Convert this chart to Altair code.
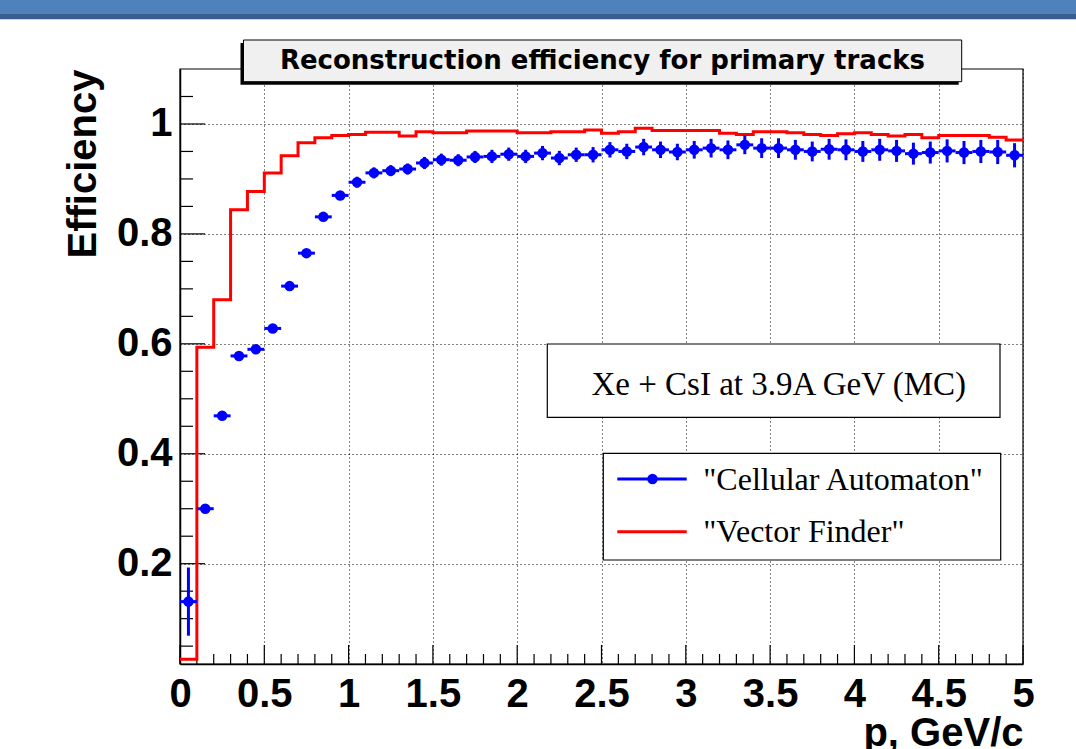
import altair as alt
import pandas as pd

# ---------------- data ----------------
p_centers = [0.05, 0.15, 0.25, 0.35, 0.45, 0.55, 0.65, 0.75, 0.85, 0.95,
             1.05, 1.15, 1.25, 1.35, 1.45, 1.55, 1.65, 1.75, 1.85, 1.95,
             2.05, 2.15, 2.25, 2.35, 2.45, 2.55, 2.65, 2.75, 2.85, 2.95,
             3.05, 3.15, 3.25, 3.35, 3.45, 3.55, 3.65, 3.75, 3.85, 3.95,
             4.05, 4.15, 4.25, 4.35, 4.45, 4.55, 4.65, 4.75, 4.85, 4.95]

ca_eff = [0.131, 0.300, 0.469, 0.578, 0.590, 0.628, 0.705, 0.765, 0.831, 0.870,
          0.894, 0.911, 0.915, 0.918, 0.929, 0.935, 0.934, 0.940, 0.941, 0.945,
          0.941, 0.947, 0.938, 0.944, 0.944, 0.953, 0.950, 0.958, 0.953, 0.949,
          0.953, 0.956, 0.953, 0.962, 0.956, 0.956, 0.953, 0.950, 0.954, 0.953,
          0.950, 0.953, 0.951, 0.946, 0.948, 0.951, 0.948, 0.950, 0.949, 0.943]

ca_err = [0.062, 0.008, 0.007, 0.006, 0.006, 0.006, 0.006, 0.006, 0.006, 0.007,
          0.010, 0.010, 0.010, 0.010, 0.011, 0.011, 0.011, 0.011, 0.012, 0.012,
          0.012, 0.013, 0.013, 0.013, 0.014, 0.014, 0.014, 0.015, 0.015, 0.015,
          0.016, 0.017, 0.017, 0.017, 0.018, 0.018, 0.018, 0.018, 0.019, 0.019,
          0.019, 0.020, 0.020, 0.020, 0.020, 0.021, 0.021, 0.021, 0.022, 0.022]

bin_edges = [0.0, 0.1, 0.2, 0.3, 0.4, 0.5, 0.6, 0.7, 0.8, 0.9,
             1.0, 1.1, 1.2, 1.3, 1.4, 1.5, 1.6, 1.7, 1.8, 1.9,
             2.0, 2.1, 2.2, 2.3, 2.4, 2.5, 2.6, 2.7, 2.8, 2.9,
             3.0, 3.1, 3.2, 3.3, 3.4, 3.5, 3.6, 3.7, 3.8, 3.9,
             4.0, 4.1, 4.2, 4.3, 4.4, 4.5, 4.6, 4.7, 4.8, 4.9, 5.0]

vf_eff = [0.026, 0.594, 0.680, 0.844, 0.877, 0.911, 0.942, 0.966, 0.975, 0.979,
          0.981, 0.985, 0.985, 0.978, 0.986, 0.984, 0.984, 0.987, 0.987, 0.987,
          0.984, 0.984, 0.986, 0.986, 0.989, 0.983, 0.986, 0.992, 0.988, 0.988,
          0.988, 0.988, 0.983, 0.981, 0.986, 0.986, 0.984, 0.981, 0.979, 0.982,
          0.984, 0.981, 0.978, 0.981, 0.975, 0.979, 0.979, 0.979, 0.976, 0.971]

x_major = [0, 0.5, 1, 1.5, 2, 2.5, 3, 3.5, 4, 4.5, 5]
x_minor = [0.1, 0.2, 0.3, 0.4, 0.6, 0.7, 0.8, 0.9, 1.1, 1.2, 1.3, 1.4,
           1.6, 1.7, 1.8, 1.9, 2.1, 2.2, 2.3, 2.4, 2.6, 2.7, 2.8, 2.9,
           3.1, 3.2, 3.3, 3.4, 3.6, 3.7, 3.8, 3.9, 4.1, 4.2, 4.3, 4.4,
           4.6, 4.7, 4.8, 4.9]
y_major = [0.2, 0.4, 0.6, 0.8, 1.0]
y_minor = [0.05, 0.1, 0.15, 0.25, 0.3, 0.35, 0.45, 0.5, 0.55, 0.65, 0.7,
           0.75, 0.85, 0.9, 0.95, 1.05]

title_text = ["Reconstruction efficiency for primary tracks"]
info_text = ["Xe + CsI at 3.9A GeV (MC)"]
legend_labels = ['"Cellular Automaton"', '"Vector Finder"']
x_title = "p, GeV/c"
y_title = "Efficiency"

# ---------------- geometry ----------------
W, H = 843, 595
SANS = "Liberation Sans"
SERIF = "Liberation Serif"
BLUE = "#0000ff"
RED = "#ff0000"

xscale = alt.Scale(domain=[0, 5], nice=False, zero=False)
yscale = alt.Scale(domain=[0.0175, 1.1], nice=False, zero=False)

x_axis = alt.Axis(values=x_major, format="~g", title=x_title, ticks=False,
                  grid=True, gridDash=[1, 3], gridColor="#000000", gridWidth=1,
                  domainColor="#000000", domainWidth=1.5,
                  labelFont=SANS, labelFontWeight="bold", labelFontSize=40,
                  labelColor="#000000", labelPadding=10, labelFlush=False,
                  labelOverlap=False, labelBaseline="top",
                  titleFont=SANS, titleFontWeight="bold", titleFontSize=40,
                  titleColor="#000000", titleX=W, titleY=81, titleAlign="right",
                  titleBaseline="alphabetic")
y_axis = alt.Axis(values=y_major, format="~g", title=y_title, ticks=False,
                  grid=True, gridDash=[1, 3], gridColor="#000000", gridWidth=1,
                  domainColor="#000000", domainWidth=1.5,
                  labelFont=SANS, labelFontWeight="bold", labelFontSize=40,
                  labelColor="#000000", labelPadding=8, labelFlush=False,
                  labelOverlap=False,
                  titleFont=SANS, titleFontWeight="bold", titleFontSize=40,
                  titleColor="#000000", titleX=-85, titleY=0, titleAngle=270,
                  titleAlign="right", titleBaseline="alphabetic")


def X(field):
    return alt.X(f"{field}:Q", scale=xscale, axis=x_axis)


def Y(field):
    return alt.Y(f"{field}:Q", scale=yscale, axis=y_axis)


ca_df = pd.DataFrame({"p": p_centers, "eff": ca_eff, "err": ca_err})
vf_df = pd.DataFrame({"edge": bin_edges, "eff": vf_eff + [vf_eff[-1]]})

# frame
frame = alt.Chart(pd.DataFrame({"a": [0]})).mark_rect(
    fill=None, stroke="#000000", strokeWidth=1.2
).encode(x=alt.value(0), x2=alt.value(W), y=alt.value(0), y2=alt.value(H))

# ticks (inside)
xmaj = alt.Chart(pd.DataFrame({"t": x_major})).mark_rule(color="#000000", strokeWidth=1.2).encode(
    x=X("t"), y=alt.value(H), y2=alt.value(H - 19))
xmin = alt.Chart(pd.DataFrame({"t": x_minor})).mark_rule(color="#000000", strokeWidth=1.2).encode(
    x=X("t"), y=alt.value(H), y2=alt.value(H - 10))
ymaj = alt.Chart(pd.DataFrame({"t": y_major})).mark_rule(color="#000000", strokeWidth=1.2).encode(
    y=Y("t"), x=alt.value(0), x2=alt.value(25))
ymin = alt.Chart(pd.DataFrame({"t": y_minor})).mark_rule(color="#000000", strokeWidth=1.2).encode(
    y=Y("t"), x=alt.value(0), x2=alt.value(13))

# Vector Finder histogram (step)
vf_line = alt.Chart(vf_df).mark_line(interpolate="step-after", color=RED, strokeWidth=3).encode(
    x=X("edge"), y=Y("eff"))

# Cellular Automaton points with errors
base = alt.Chart(ca_df).transform_calculate(
    lo="datum.eff - datum.err", hi="datum.eff + datum.err",
    pl="datum.p - 0.05", pr="datum.p + 0.05")
vbar = base.mark_rule(color=BLUE, strokeWidth=3).encode(x=X("p"), y=Y("lo"), y2="hi:Q")
hbar = base.mark_rule(color=BLUE, strokeWidth=3).encode(x=X("pl"), x2="pr:Q", y=Y("eff"))
pts = base.mark_circle(color=BLUE, opacity=1, size=110).encode(x=X("p"), y=Y("eff"))

one = pd.DataFrame({"a": [0]})

# top banner
banner1 = alt.Chart(one).mark_rect(fill="#4f81bd").encode(
    x=alt.value(-180), x2=alt.value(W + 53), y=alt.value(-69), y2=alt.value(-55))
banner2 = alt.Chart(one).mark_rect(fill="#3a5e8e").encode(
    x=alt.value(-180), x2=alt.value(W + 53), y=alt.value(-55), y2=alt.value(-50))
banner3 = alt.Chart(one).mark_rect(fill="#c3d3e8").encode(
    x=alt.value(-180), x2=alt.value(W + 53), y=alt.value(-50), y2=alt.value(-49))

# title box
t_shadow = alt.Chart(one).mark_rect(fill="#000000").encode(
    x=alt.value(60.5), x2=alt.value(778.7), y=alt.value(-26), y2=alt.value(15.7))
t_box = alt.Chart(one).mark_rect(fill="#f0f0f0", stroke="#000000", strokeWidth=1).encode(
    x=alt.value(63.5), x2=alt.value(781.7), y=alt.value(-29), y2=alt.value(12.7))
t_text = alt.Chart(pd.DataFrame({"label": title_text})).mark_text(
    font="DejaVu Sans", fontWeight="bold", fontSize=26, align="center",
    baseline="alphabetic", color="#000000").encode(
    text="label:N", x=alt.value(422.5), y=alt.value(-0.5))

# info box
i_box = alt.Chart(one).mark_rect(fill="#ffffff", stroke="#000000", strokeWidth=1.2).encode(
    x=alt.value(367.3), x2=alt.value(820), y=alt.value(275), y2=alt.value(348.3))
i_text = alt.Chart(pd.DataFrame({"label": info_text})).mark_text(
    font=SERIF, fontSize=33, align="center", baseline="alphabetic", color="#000000").encode(
    text="label:N", x=alt.value(598.8), y=alt.value(326))

# legend
l_box = alt.Chart(one).mark_rect(fill="#ffffff", stroke="#000000", strokeWidth=1.2).encode(
    x=alt.value(423.3), x2=alt.value(820.7), y=alt.value(384.3), y2=alt.value(491))
l_line1 = alt.Chart(one).mark_rule(color=BLUE, strokeWidth=3).encode(
    x=alt.value(437.3), x2=alt.value(506.7), y=alt.value(410))
l_pt1 = alt.Chart(one).mark_circle(color=BLUE, opacity=1, size=110).encode(
    x=alt.value(472.5), y=alt.value(410))
l_line2 = alt.Chart(one).mark_rule(color=RED, strokeWidth=3).encode(
    x=alt.value(437.3), x2=alt.value(506.7), y=alt.value(462.7))
l_text1 = alt.Chart(pd.DataFrame({"label": [legend_labels[0]]})).mark_text(
    font=SERIF, fontSize=32, align="left", baseline="alphabetic", color="#000000").encode(
    text="label:N", x=alt.value(523.3), y=alt.value(420.5))
l_text2 = alt.Chart(pd.DataFrame({"label": [legend_labels[1]]})).mark_text(
    font=SERIF, fontSize=32, align="left", baseline="alphabetic", color="#000000").encode(
    text="label:N", x=alt.value(523.3), y=alt.value(473.3))

chart = alt.layer(
    frame, xmaj, xmin, ymaj, ymin, vf_line, vbar, hbar, pts,
    banner1, banner2, banner3,
    t_shadow, t_box, t_text,
    i_box, i_text,
    l_box, l_line1, l_pt1, l_line2, l_text1, l_text2,
).properties(
    width=W, height=H, autosize="none",
    padding={"left": 180, "top": 69, "right": 53, "bottom": 85},
    background="#ffffff",
).configure_view(stroke=None)

chart.save("out.html", embed_options={"renderer": "svg", "actions": False})
